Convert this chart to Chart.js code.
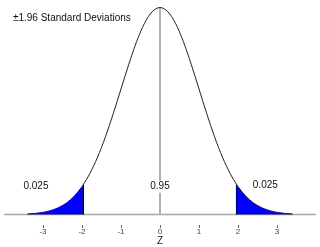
<!DOCTYPE html>
<html><head><meta charset="utf-8">
<style>html,body{margin:0;padding:0;background:#fff}#w{width:320px;height:247px}</style>
<script src="https://cdn.jsdelivr.net/npm/chart.js@4/dist/chart.umd.min.js"></script>
</head><body><div id="w"><canvas id="c"></canvas></div>
<script>
const zPoints = [-3.4,-3.2,-3.0,-2.8,-2.6,-2.4,-2.2,-2.0,-1.96,-1.8,-1.6,-1.4,-1.2,-1.0,-0.8,-0.6,-0.4,-0.2,0,0.2,0.4,0.6,0.8,1.0,1.2,1.4,1.6,1.8,1.96,2.0,2.2,2.4,2.6,2.8,3.0,3.2,3.4];
const density = [0.0012,0.0024,0.0044,0.0079,0.0136,0.0224,0.0355,0.0540,0.0584,0.0790,0.1109,0.1497,0.1942,0.2420,0.2897,0.3332,0.3683,0.3910,0.3989,0.3910,0.3683,0.3332,0.2897,0.2420,0.1942,0.1497,0.1109,0.0790,0.0584,0.0540,0.0355,0.0224,0.0136,0.0079,0.0044,0.0024,0.0012];
const cutoffs = [-1.96, 1.96];
const tickValues = [-3,-2,-1,0,1,2,3];
const axisRange = [-4, 4];
const areaLabels = ['0.025','0.95','0.025'];
const titleText = '\u00b11.96 Standard Deviations';
const axisTitle = 'Z';

const curve = zPoints.map((z,i)=>({x:z,y:density[i]}));
const leftTail = curve.filter(p=>p.x<=cutoffs[0]);
const rightTail = curve.filter(p=>p.x>=cutoffs[1]);
const dAt = z => density[zPoints.indexOf(z)];
const peak = Math.max(...density);

const textPlugin = {
  id:'texts',
  afterDatasetsDraw(chart){
    const {ctx, scales:{x,y}} = chart;
    ctx.save();
    ctx.font = '10px "Liberation Sans", Arial, sans-serif';
    ctx.textBaseline = 'middle';
    ctx.fillStyle = '#111';
    ctx.textAlign = 'left';
    ctx.fillText(titleText, x.getPixelForValue(-3.77), y.getPixelForValue(0.378));
    ctx.textAlign = 'center';
    const spots = [[-3.18,0.0556],[0,0.0537],[2.7,0.0575]];
    areaLabels.forEach((t,i)=>{
      const px = x.getPixelForValue(spots[i][0]), py = y.getPixelForValue(spots[i][1]);
      const w = ctx.measureText(t).width;
      ctx.fillStyle = '#fff';
      ctx.fillRect(px-w/2-1, py-6, w+2, 12);
      ctx.fillStyle = '#111';
      ctx.fillText(t, px, py);
    });
    ctx.restore();
  }
};

new Chart(document.getElementById('c'), {
  type:'line',
  data:{datasets:[
    {data:[{x:axisRange[0],y:0},{x:axisRange[1],y:0}], borderColor:'#a8a8a8', borderWidth:1.5, pointRadius:0, order:5},
    {data:leftTail, borderWidth:0, borderColor:'rgba(0,0,0,0)', backgroundColor:'#0000ff', fill:'origin', pointRadius:0, cubicInterpolationMode:'monotone', order:4},
    {data:rightTail, borderWidth:0, borderColor:'rgba(0,0,0,0)', backgroundColor:'#0000ff', fill:'origin', pointRadius:0, cubicInterpolationMode:'monotone', order:4},
    {data:[{x:0,y:0},{x:0,y:peak}], borderColor:'#b0b0b0', borderWidth:2, pointRadius:0, order:3},
    {data:[{x:cutoffs[0],y:0},{x:cutoffs[0],y:dAt(cutoffs[0])}], borderColor:'#000', borderWidth:1, pointRadius:0, order:2},
    {data:[{x:cutoffs[1],y:0},{x:cutoffs[1],y:dAt(cutoffs[1])}], borderColor:'#000', borderWidth:1, pointRadius:0, order:2},
    {data:curve, borderColor:'#222', borderWidth:1, pointRadius:0, fill:false, cubicInterpolationMode:'monotone', order:1}
  ]},
  options:{
    responsive:true, maintainAspectRatio:false, animation:false,
    layout:{padding:{top:7,left:4,right:4,bottom:0}},
    plugins:{legend:{display:false}, tooltip:{enabled:false}},
    scales:{
      x:{type:'linear', min:axisRange[0], max:axisRange[1],
        afterBuildTicks(s){ s.ticks = tickValues.map(v=>({value:v})); },
        grid:{display:true, drawOnChartArea:false, drawTicks:true, tickLength:3, color:'#666', lineWidth:1},
        border:{display:false},
        ticks:{padding:0, maxRotation:0, autoSkip:false, color:'#444', font:{size:8, family:'"Liberation Sans", Arial, sans-serif', lineHeight:1}},
        title:{display:true, text:axisTitle, color:'#222', padding:{top:0,bottom:1}, font:{size:10, family:'"Liberation Sans", Arial, sans-serif', lineHeight:1}}
      },
      y:{display:false, min:-0.02, max:0.4}
    }
  },
  plugins:[textPlugin]
});
</script></body></html>
